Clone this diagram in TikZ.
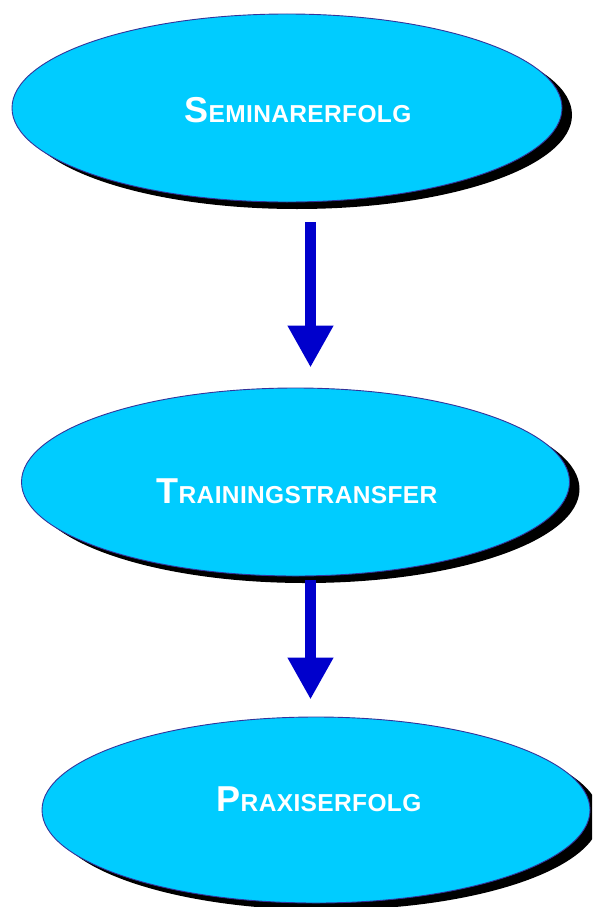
\documentclass[tikz,border=0pt]{standalone}
\usepackage{fontspec}
\newfontfamily\lblfont{Liberation Sans}[LetterSpace=1.5]
\usetikzlibrary{shapes.geometric,shadows,arrows.meta}
\definecolor{ellfill}{HTML}{00CCFF}
\definecolor{elldraw}{HTML}{33339A}
\definecolor{arrblue}{HTML}{0000CC}
\newcommand{\initialletter}[1]{{\fontsize{36}{36}\selectfont #1}}
\newcommand{\restletters}[1]{{\fontsize{24.5}{24.5}\selectfont #1}}
\tikzset{
  ell/.style={ellipse, draw=elldraw, line width=0.9pt, fill=ellfill, inner sep=0pt,
    drop shadow={shadow xshift=10pt, shadow yshift=-7pt, fill=black, opacity=1}},
  lbl/.style={anchor=base, text=white, font=\lblfont\bfseries, inner sep=0pt},
  bigarrow/.style={draw=arrblue, line width=11pt, -{Triangle[width=43pt,length=42pt]}, arrblue}
}
\begin{document}
\begin{tikzpicture}[x=1pt,y=-1pt]
\clip (0,0) rectangle (592,907);
\fill[white] (0,0) rectangle (592,907);
\node[ell, minimum width=550pt, minimum height=188pt] (e1) at (287,108) {};
\node[ell, minimum width=548pt, minimum height=188pt] (e2) at (295.5,482) {};
\node[ell, minimum width=548pt, minimum height=186pt] (e3) at (316,810) {};
\node[lbl] (t1) at (298,122) {\initialletter{S}\restletters{EMINARERFOLG}};
\node[lbl] (t2) at (297,503.5) {\initialletter{T}\restletters{RAININGSTRANSFER}};
\node[lbl] (t3) at (319,811) {\initialletter{P}\restletters{RAXISERFOLG}};
\coordinate (ax) at (310.5,0);
\draw[bigarrow, shorten <=20pt, shorten >=20pt] (e1.south -| ax) -- (e2.north -| ax);
\draw[bigarrow, shorten <=4pt, shorten >=17pt] (e2.south -| ax) -- (e3.north -| ax);
\end{tikzpicture}
\end{document}
